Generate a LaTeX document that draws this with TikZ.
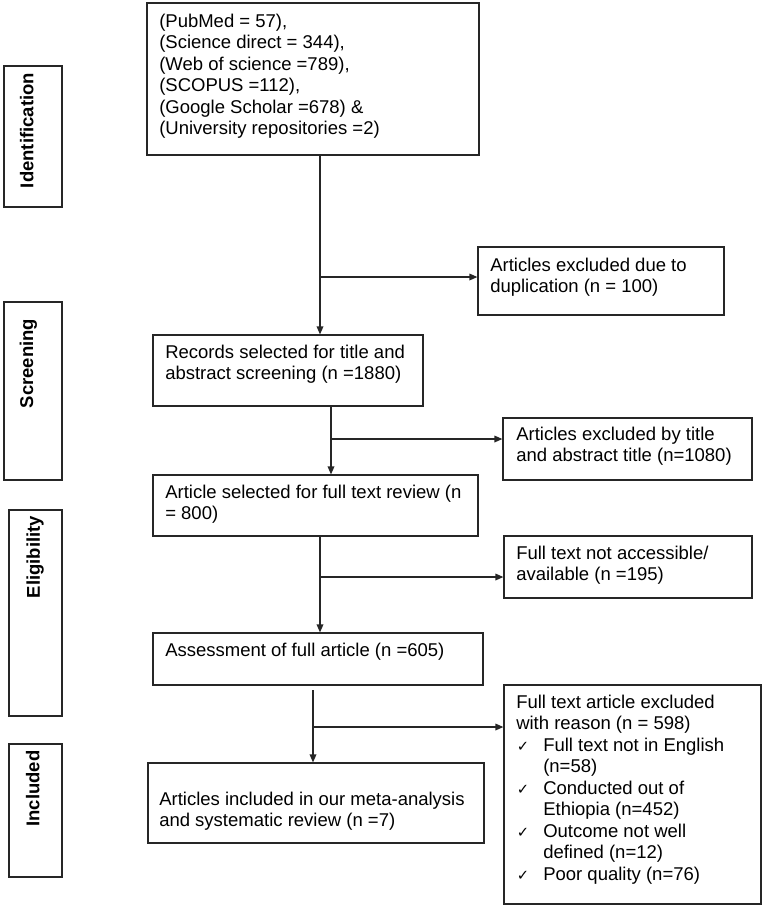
\documentclass[tikz,border=0pt]{standalone}
\usepackage{fontspec}
\setmainfont{Liberation Sans}
\newfontfamily\djv{DejaVu Sans}
\usetikzlibrary{fit,arrows.meta}
\newcommand{\chk}{\makebox[20.25pt][l]{\hspace{0.5pt}{\djv\fontsize{11}{11}\selectfont ✓}}}
\newcommand{\ind}{\hspace*{20.25pt}}
\begin{document}
\begin{tikzpicture}[x=0.75pt,y=-0.75pt,
  box/.style={draw=black!85,line width=0.9pt,inner sep=0pt},
  txt/.style={anchor=north west,inner sep=0pt,align=left,font=\fontsize{13.875pt}{16.1pt}\selectfont},
  side/.style={rotate=90,anchor=base,inner sep=0pt,font=\bfseries\fontsize{13.875pt}{16.1pt}\selectfont},
  arr/.style={draw=black!85,line width=0.9pt,-{Triangle[length=6pt,width=5pt]}},
  ln/.style={draw=black!85,line width=0.9pt}]
\useasboundingbox (0,0) rectangle (765,908);
% side boxes
\node[box,fit={(4,66)(62,207)}] (idb) {};
\node[box,fit={(4,302)(62,480)}] (scb) {};
\node[box,fit={(9,510)(62,716)}] (elb) {};
\node[box,fit={(9,744)(62,877)}] (inb) {};
\node[side] (idt) at (33.5,130.5) {Identification};
\node[side] (sct) at (33,363.5) {Screening};
\node[side] (elt) at (40,557) {Eligibility};
\node[side] (int) at (39.3,788.5) {Included};
% main boxes
\node[box,fit={(147,3)(479,155)}] (top) {};
\node[box,fit={(478,247)(724,315)}] (ex1) {};
\node[box,fit={(153,335)(423,406)}] (rec) {};
\node[box,fit={(503,418)(752,480)}] (ex2) {};
\node[box,fit={(153,475)(478,536)}] (art) {};
\node[box,fit={(504,536)(752,598)}] (ex3) {};
\node[box,fit={(153,633)(483,685)}] (ass) {};
\node[box,fit={(504,685)(761,904)}] (ex4) {};
\node[box,fit={(148,763)(484,843)}] (fin) {};
% texts
\node[txt] (toptxt) at (159,11) {\rule{0pt}{12pt}(PubMed = 57),\\(Science direct = 344),\\(Web of science =789),\\(SCOPUS =112),\\(Google Scholar =678) \&\\(University repositories =2)};
\node[txt] (ex1txt) at (490,255) {\rule{0pt}{12pt}Articles excluded due to\\duplication (n = 100)};
\node[txt] (rectxt) at (165,342) {\rule{0pt}{12pt}Records selected for title and\\abstract screening (n =1880)};
\node[txt] (ex2txt) at (516,424) {\rule{0pt}{12pt}Articles excluded by title\\and abstract title (n=1080)};
\node[txt] (arttxt) at (165,482) {\rule{0pt}{12pt}Article selected for full text review (n\\= 800)};
\node[txt] (ex3txt) at (516,543) {\rule{0pt}{12pt}Full text not accessible/\\available (n =195)};
\node[txt] (asstxt) at (165,640) {\rule{0pt}{12pt}Assessment of full article (n =605)};
\node[txt] (ex4txt) at (516,692) {\rule{0pt}{12pt}Full text article excluded\\with reason (n = 598)\\\chk Full text not in English\\\ind (n=58)\\\chk Conducted out of\\\ind Ethiopia (n=452)\\\chk Outcome not well\\\ind defined (n=12)\\\chk Poor quality (n=76)};
\node[txt] (fintxt) at (159,789) {\rule{0pt}{12pt}Articles included in our meta-analysis\\and systematic review (n =7)};
% connector coordinates
\coordinate (x1) at (320,0);
\coordinate (x2) at (331,0);
\coordinate (x3) at (320,0);
\coordinate (s4) at (313,690);
\coordinate (b1) at (320,277);
\coordinate (b2) at (331,439);
\coordinate (b3) at (320,577);
\coordinate (b4) at (313,727);
% connectors
\draw[arr] (top.south -| x1) -- (rec.north -| x1);
\draw[arr] (b1) -- (ex1.west |- b1);
\draw[arr] (rec.south -| x2) -- (art.north -| x2);
\draw[arr] (b2) -- (ex2.west |- b2);
\draw[arr] (art.south -| x3) -- (ass.north -| x3);
\draw[arr] (b3) -- (ex3.west |- b3);
\draw[arr] (s4) -- (fin.north -| s4);
\draw[arr] (b4) -- (ex4.west |- b4);
\end{tikzpicture}
\end{document}
